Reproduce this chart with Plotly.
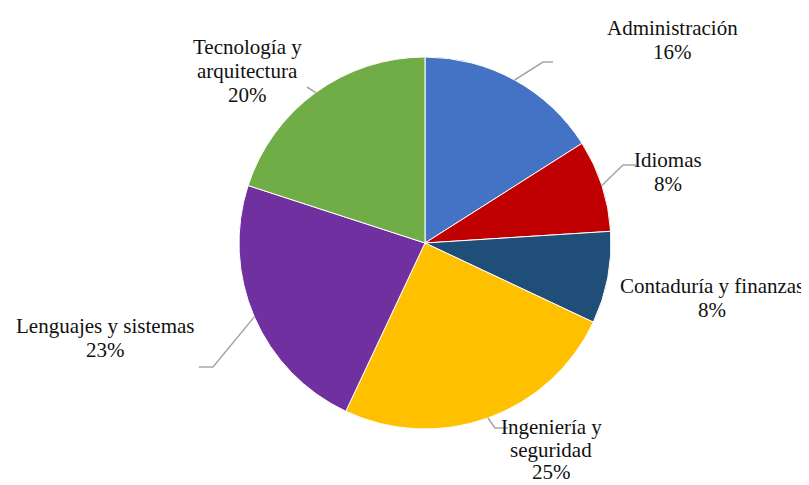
import math
import plotly.graph_objects as go

categories = ["Administración", "Idiomas", "Contaduría y finanzas",
              "Ingeniería y seguridad", "Lenguajes y sistemas", "Tecnología y arquitectura"]
label_lines = [["Administración"], ["Idiomas"], ["Contaduría y finanzas"],
               ["Ingeniería y", "seguridad"], ["Lenguajes y sistemas"], ["Tecnología y", "arquitectura"]]
values = [16, 8, 8, 25, 23, 20]
colors = ["#4472C4", "#C00000", "#1F4E79", "#FFC000", "#7030A0", "#70AD47"]

OFF = 8  # page body margin
W, H = 809 - OFF, 485 - OFF
CX, CY, R = 425, 243, 186  # pie centre and radius in window px

# label layout (window px): centre x, first-line y, line spacing; leader elbow/end points
label_pos = [(672, 28, 24), (668, 160, 24), (712, 286, 24), (551, 427, 22.5),
             (105, 326, 24), (247, 47, 24)]
leader = [[(543, 62), (553, 62)], [(623, 165), (636, 165)], None,
          [(495, 428), (508, 428)], [(213, 367), (199, 367)], [(307, 87)]]
FONT = "Liberation Serif, Times New Roman, serif"

def px(x, y):
    return (x - OFF) / W, 1 - (y - OFF) / H

x0, y1 = px(CX - R, CY - R)
x1, y0 = px(CX + R, CY + R)
fig = go.Figure(go.Pie(
    labels=categories, values=values, sort=False, direction="clockwise", rotation=0,
    marker=dict(colors=colors, line=dict(color="white", width=1)),
    textinfo="none", hoverinfo="label+percent", showlegend=False,
    domain=dict(x=[x0, x1], y=[y0, y1]),
))

total = sum(values)
annotations = []
shapes = []
cum = 0
for i, v in enumerate(values):
    mid = (cum + v / 2) / total * 2 * math.pi
    cum += v
    pct = f"{round(v / total * 100)}%"
    lines = label_lines[i] + [pct]
    lx, ly, lh = label_pos[i]
    for k, t in enumerate(lines):
        ax, ay = px(lx, ly + k * lh)
        annotations.append(dict(x=ax, y=ay, xref="paper", yref="paper", text=t,
                                showarrow=False, xanchor="center", yanchor="middle",
                                font=dict(family=FONT, size=21, color="#111111")))
    if leader[i]:
        pts = [(CX + R * math.sin(mid), CY - R * math.cos(mid))] + leader[i]
        path = "M " + " L ".join(f"{px(x, y)[0]:.5f},{px(x, y)[1]:.5f}" for x, y in pts)
        shapes.append(dict(type="path", path=path, xref="paper", yref="paper",
                           line=dict(color="#A6A6A6", width=1.5)))

fig.update_layout(width=W, height=H, margin=dict(l=0, r=0, t=0, b=0),
                  paper_bgcolor="white", plot_bgcolor="white",
                  annotations=annotations, shapes=shapes)
fig.write_html("out.html")
